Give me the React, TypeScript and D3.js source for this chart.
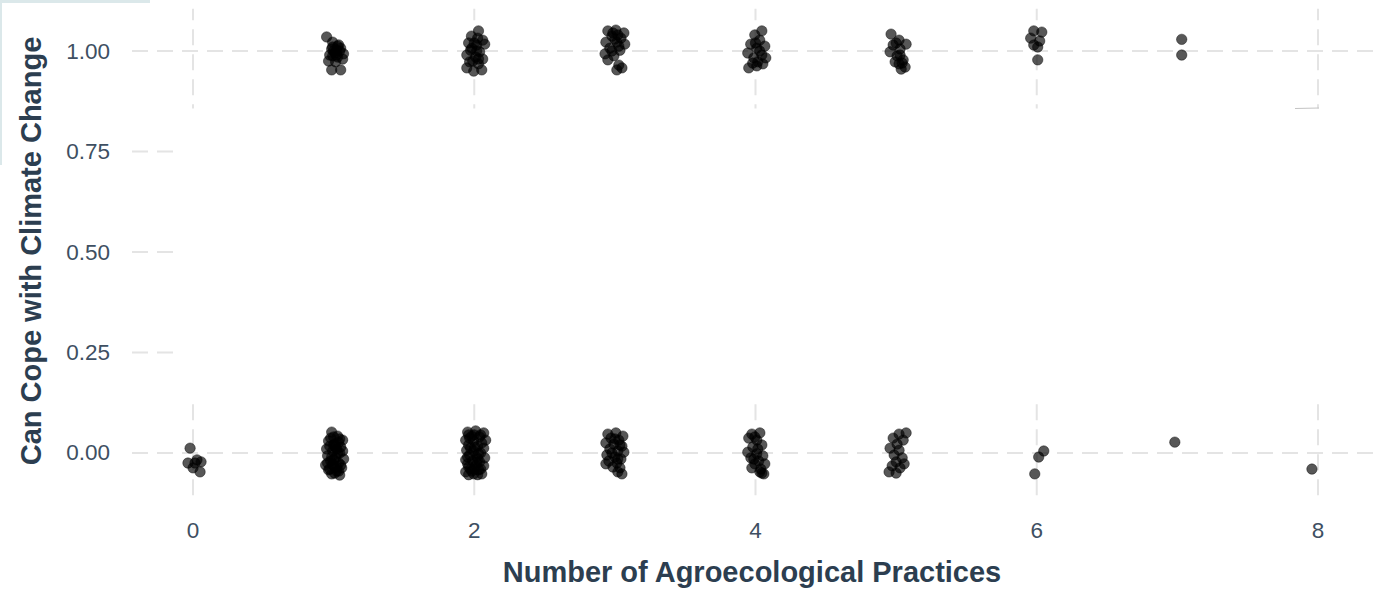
import React from "react";
import * as d3 from "d3";

// jittered points: [practices, cope]
const copeYes: [number, number][] = [
  // 1 practice
  [0.95, 1.035], [0.993, 1.022], [1.028, 1.012], [0.986, 1.005], [1.043, 1.0], [1.007, 0.995],
  [1.07, 0.993], [0.972, 0.99], [1.028, 0.985], [1.064, 0.98], [0.964, 0.975], [1.014, 0.973],
  [0.986, 0.953], [1.05, 0.953], [1.021, 1.002], [1.05, 1.007], [0.993, 0.988],
  [1.0, 1.0], [1.021, 0.99], [0.993, 1.01], [1.036, 1.015],
  // 2
  [2.03, 1.05], [1.98, 1.037], [2.06, 1.027], [1.96, 1.02], [2.017, 1.015], [2.074, 1.017],
  [1.974, 1.002], [2.038, 0.998], [1.947, 0.99], [2.01, 0.985], [2.06, 0.98], [1.967, 0.973],
  [2.03, 0.968], [1.947, 0.958], [1.996, 0.95], [2.053, 0.953], [1.982, 1.007], [2.024, 1.032],
  [2.0, 1.02], [2.017, 1.0], [1.989, 0.975], [2.03, 0.98],
  // 3
  [2.95, 1.05], [3.007, 1.052], [3.064, 1.045], [2.979, 1.037], [3.043, 1.032], [2.936, 1.022],
  [3.014, 1.022], [3.07, 1.017], [2.964, 1.007], [3.036, 1.002], [2.93, 0.993], [2.993, 0.988],
  [2.95, 0.978], [3.028, 0.965], [3.014, 0.953], [3.05, 0.958], [2.986, 1.045],
  [3.0, 1.03], [3.021, 1.04], [2.979, 1.0], [3.028, 1.012],
  // 4
  [4.045, 1.05], [3.995, 1.04], [4.03, 1.027], [3.966, 1.017], [4.066, 1.012], [4.009, 1.007],
  [3.945, 0.995], [4.045, 0.99], [3.988, 0.983], [4.073, 0.983], [4.016, 0.973], [3.952, 0.958],
  [4.009, 0.963], [4.052, 0.968], [4.0, 1.02], [4.03, 1.0], [3.98, 0.97],
  // 5
  [4.964, 1.042], [5.021, 1.027], [5.071, 1.017], [4.979, 1.015], [5.028, 1.005], [4.957, 0.998],
  [5.007, 0.988], [5.05, 0.978], [5.021, 0.968], [5.064, 0.96], [5.036, 0.955], [4.993, 0.973],
  [5.0, 1.02], [5.043, 0.97], [5.028, 0.99],
  // 6
  [5.979, 1.05], [6.036, 1.047], [5.957, 1.032], [6.021, 1.025], [5.979, 1.015], [6.007, 1.01],
  [6.007, 0.978],
  // 7
  [7.031, 1.029], [7.031, 0.99],
];

const copeNo: [number, number][] = [
  // 0 practices
  [-0.021, 0.012], [-0.036, -0.025], [0.028, -0.017], [0.057, -0.022], [0.0, -0.037],
  [0.05, -0.047], [0.014, -0.025],
  // 1
  [0.986, 0.052], [1.028, 0.042], [1.064, 0.032], [0.964, 0.03], [1.007, 0.022], [1.05, 0.015],
  [0.95, 0.01], [0.993, 0.005], [1.043, 0.0], [0.957, -0.007], [1.014, -0.012], [1.071, -0.015],
  [0.979, -0.02], [1.036, -0.025], [0.943, -0.03], [1.0, -0.032], [1.057, -0.037], [0.964, -0.042],
  [1.021, -0.045], [0.986, -0.052], [1.043, -0.055], [0.972, 0.017], [1.021, 0.01], [1.064, 0.005],
  [0.979, 0.037], [1.036, 0.027], [1.0, -0.017], [0.957, -0.025], [1.05, -0.03], [1.007, -0.05],
  [1.0, 0.02], [1.028, 0.0], [0.986, -0.01], [1.021, -0.035], [0.972, -0.04], [1.043, 0.035],
  [1.0, 0.04], [1.014, 0.015], [0.993, -0.028], [1.036, -0.045],
  // 2
  [1.953, 0.052], [2.01, 0.055], [2.067, 0.05], [1.982, 0.042], [2.038, 0.04], [1.939, 0.032],
  [2.081, 0.032], [1.996, 0.03], [1.96, 0.02], [2.024, 0.017], [2.067, 0.012], [1.946, 0.007],
  [1.996, 0.005], [2.045, 0.0], [1.967, -0.005], [2.017, -0.01], [2.074, -0.012], [1.939, -0.017],
  [1.989, -0.02], [2.038, -0.022], [1.953, -0.027], [2.01, -0.032], [2.067, -0.032], [1.974, -0.04],
  [2.031, -0.042], [1.939, -0.047], [1.996, -0.052], [2.053, -0.052], [1.96, -0.054], [2.024, -0.054],
  [1.967, 0.037], [2.053, 0.025], [1.974, 0.012], [2.024, -0.015], [1.982, -0.045],
  [2.0, 0.045], [1.96, 0.045], [2.045, 0.045], [2.003, 0.015], [2.031, -0.002], [1.953, -0.01],
  [2.0, -0.04], [2.045, -0.04], [1.96, -0.035], [2.017, -0.025],
  // 3
  [2.95, 0.047], [3.007, 0.05], [3.057, 0.042], [2.972, 0.037], [3.028, 0.032], [2.936, 0.025],
  [2.993, 0.022], [3.05, 0.017], [2.964, 0.01], [3.021, 0.005], [3.064, 0.002], [2.943, -0.005],
  [3.0, -0.01], [3.043, -0.015], [2.957, -0.02], [3.014, -0.025], [2.936, -0.027], [2.986, -0.035],
  [3.036, -0.037], [3.021, -0.047], [3.05, -0.052],
  [3.0, 0.035], [3.036, 0.02], [2.979, 0.0], [3.021, -0.015],
  // 4
  [3.974, 0.047], [4.031, 0.05], [3.952, 0.037], [4.009, 0.032], [4.045, 0.02], [3.981, 0.015],
  [3.945, 0.002], [4.009, -0.002], [4.052, -0.007], [3.967, -0.012], [4.023, -0.02], [3.995, -0.027],
  [4.066, -0.027], [3.974, -0.037], [4.038, -0.04], [4.059, -0.052], [4.031, -0.047],
  [3.995, 0.04], [4.016, 0.01], [3.988, -0.015], [4.045, -0.05],
  // 5
  [5.021, 0.047], [5.071, 0.05], [4.979, 0.037], [5.05, 0.032], [5.007, 0.022], [4.957, 0.012],
  [5.021, 0.007], [4.986, -0.005], [5.043, -0.012], [5.0, -0.022], [5.057, -0.027], [4.972, -0.032],
  [5.028, -0.037], [4.95, -0.047], [5.0, -0.05],
  // 6
  [6.05, 0.005], [6.014, -0.01], [5.986, -0.052],
  // 7
  [6.982, 0.027],
  // 8
  [7.957, -0.04],
];

const xTicks = [0, 2, 4, 6, 8];
const yTicks = [0, 0.25, 0.5, 0.75, 1];

const W = 1373;
const H = 589;
const font = "'Liberation Sans', Arial, sans-serif";
const gridColor = "#e4e4e4";
const tickColor = "#3e4f62";
const titleColor = "#2c3e50";

export default function App() {
  const x = d3.scaleLinear().domain([-0.434, 8.434]).range([132, 1379]);
  const y = d3.scaleLinear().domain([-0.105, 1.105]).range([495.2, 8.8]);
  const [x0, x1] = x.range();
  const [y0, y1] = y.range();

  const dot = (d: [number, number], i: number) => (
    <circle key={i} cx={x(d[0])} cy={y(d[1])} r={5.2}
      fill="#000" fillOpacity={0.66} stroke="#000" strokeOpacity={0.55} strokeWidth={0.8} />
  );

  return (
    <svg width={W} height={H} style={{ position: "absolute", left: 0, top: 0, background: "#fff" }}
      fontFamily={font}>
      <rect width={W} height={H} fill="#fff" />
      <g stroke={gridColor} strokeWidth={2} strokeDasharray="16 9">
        {yTicks.map(t => <line key={"gy" + t} x1={x0} x2={x1} y1={y(t)} y2={y(t)} />)}
        {xTicks.map(t => <line key={"gx" + t} x1={x(t)} x2={x(t)} y1={y0} y2={y1} />)}
      </g>
      {/* white block pasted over the middle of the panel in the screenshot */}
      <rect x={176.5} y={108.5} width={W - 176.5} height={403 - 108.5} fill="#fff" />
      <line x1={1295} x2={1319} y1={108.5} y2={108} stroke="#c4c4c4" strokeWidth={1} />
      <rect x={0} y={0} width={150} height={3} fill="#dbe8ea" />
      <rect x={0} y={0} width={2} height={165} fill="#dbe8ea" />

      <g>{copeNo.map(dot)}</g>
      <g>{copeYes.map(dot)}</g>

      <g fill={tickColor} fontSize={22.5}>
        {yTicks.map(t => (
          <text key={"ly" + t} x={110} y={y(t)} textAnchor="end" dominantBaseline="central">
            {d3.format(".2f")(t)}
          </text>
        ))}
        {xTicks.map(t => (
          <text key={"lx" + t} x={x(t)} y={530} textAnchor="middle" dominantBaseline="central">
            {t}
          </text>
        ))}
      </g>
      <text x={752} y={582} textAnchor="middle" fill={titleColor} fontSize={29} fontWeight="bold">
        Number of Agroecological Practices
      </text>
      <text transform="translate(41,251) rotate(-90)" textAnchor="middle" fill={titleColor}
        fontSize={29} fontWeight="bold">
        Can Cope with Climate Change
      </text>
    </svg>
  );
}
